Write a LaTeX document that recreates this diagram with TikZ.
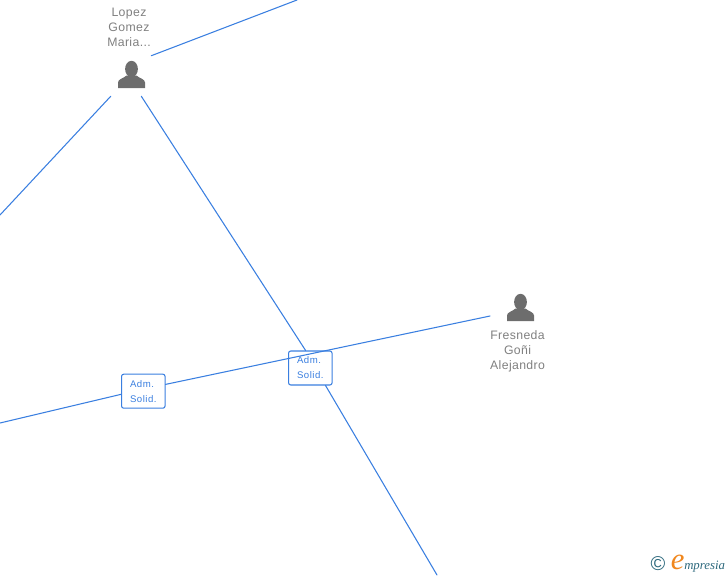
\documentclass[tikz,border=0pt]{standalone}
\usepackage{fontspec}
\setmainfont{Liberation Sans}
\newfontfamily\logofont{Liberation Serif}
\newfontfamily\labelfont[LetterSpace=3]{Liberation Sans}
\newfontfamily\rolefont[LetterSpace=5]{Liberation Sans}
\usetikzlibrary{positioning}
\definecolor{linkblue}{RGB}{58,127,224}
\definecolor{persongray}{RGB}{109,109,109}
\definecolor{labelgray}{RGB}{128,128,128}
\definecolor{logoteal}{RGB}{45,105,125}
\definecolor{logoorange}{RGB}{240,135,30}
\tikzset{
 link/.style={linkblue,line width=.8pt},
 personbox/.style={minimum size=30pt,inner sep=0pt},
 personlabel/.style={inner sep=0pt,align=center,text=labelgray,font=\labelfont\fontsize{9.2}{11.25}\selectfont},
 rolebox/.style={draw=linkblue,fill=white,line width=.8pt,rounded corners=1.6pt,
  minimum width=32.6pt,minimum height=25.5pt,inner sep=0pt,align=left,
  text=linkblue,font=\rolefont\fontsize{7.2}{11.25}\selectfont},
 pics/personicon/.style={code={
  \fill[persongray] (0,-5.5) ellipse (6.4 and 8.2);
  \fill[persongray] (-13.5,13.5) -- (-13.5,8)
   .. controls (-13.5,4.5) and (-8,4) .. (-5,1) -- (5,1)
   .. controls (8,4) and (13.5,4.5) .. (13.5,8) -- (13.5,13.5) -- cycle;
 }},
}
\begin{document}
\begin{tikzpicture}[x=.75pt,y=-.75pt,line cap=round,line join=round]
 \useasboundingbox (0,0) rectangle (728,575);
 \node[personbox] (lopez) at (131,76) {};
 \node[personbox] (fresneda) at (520.5,309) {};
 \pic at (131.5,74.5) {personicon};
 \pic at (520.5,307.5) {personicon};
 \node[personlabel,anchor=south] (lopezlabel) at (129,47) {Lopez\\Gomez\\Maria...};
 \node[personlabel,below=.5pt of fresneda,xshift=-2.2pt] (fresnedalabel) {Fresneda\\Goñi\\Alejandro};
 \node[rolebox] (admone) at (143.3,391.2) {Adm.\\Solid.};
 \node[rolebox] (admtwo) at (310.3,368) {Adm.\\Solid.};
 \coordinate (topend) at (297,0);
 \coordinate (leftend) at (0,215);
 \coordinate (bottomend) at (437,575);
 \coordinate (lowleftend) at (0,423);
 \coordinate (fresnedaend) at (490,316);
 \draw[link] (lopez.north east) -- (topend);
 \draw[link] (lopez.south west) -- (leftend);
 \draw[link] (lopez.-63.4) -- (admtwo.105);
 \draw[link] (admtwo.-49.4) -- (bottomend);
 \draw[link] (fresnedaend) -- (admone.17);
 \draw[link] (admone.188) -- (lowleftend);
 \node[text=logoteal,inner sep=0pt,font=\fontsize{15}{15}\selectfont] (logomark) at (658,564) {©};
 \node[anchor=base west,inner sep=0pt,text=logoorange,font=\logofont\itshape\fontsize{23}{23}\selectfont] (logoe) at (670.5,569) {e};
 \node[inner sep=0pt,text=logoteal,font=\logofont\itshape\fontsize{9.6}{10}\selectfont,right=-.5pt of logoe.base east,anchor=base west] (logotext) {mpresia};
\end{tikzpicture}
\end{document}
